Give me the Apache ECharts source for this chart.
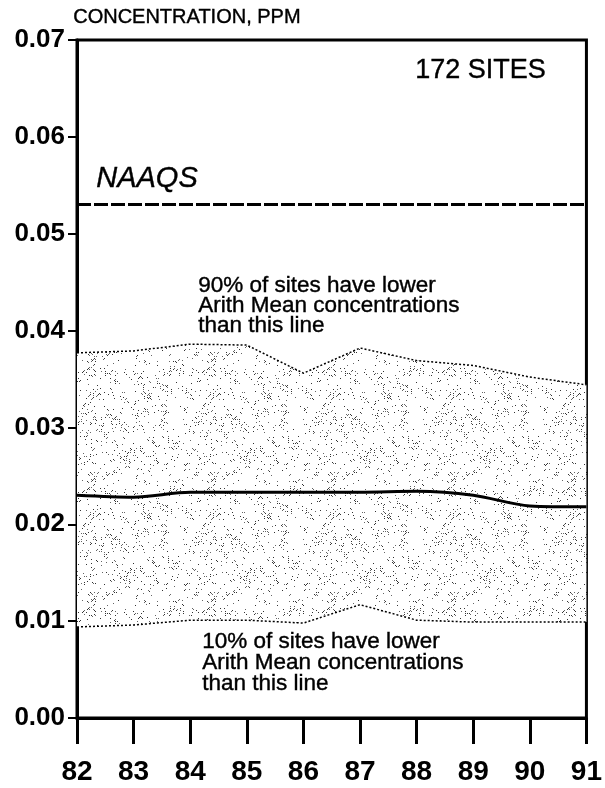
<!DOCTYPE html>
<html>
<head>
<meta charset="utf-8">
<script src="https://cdn.jsdelivr.net/npm/echarts@6/dist/echarts.min.js"></script>
<style>
  html, body { margin: 0; padding: 0; background: #fff; }
  #chart { width: 605px; height: 788px; }
</style>
</head>
<body>
<div id="chart"></div>
<script>
// Years on the horizontal axis
const years = ['82', '83', '84', '85', '86', '87', '88', '89', '90', '91'];
// Annual arithmetic mean NO2 concentration, ppm
const pct90 = [0.0377, 0.0379, 0.0386, 0.0385, 0.0356, 0.0382, 0.0369, 0.0364, 0.0352, 0.0344];
const meanAll = [0.0230, 0.0228, 0.0233, 0.0233, 0.0233, 0.0233, 0.0234, 0.0230, 0.0219, 0.0218];
const pct10 = [0.0094, 0.0096, 0.0101, 0.0101, 0.0098, 0.0117, 0.0101, 0.0099, 0.0099, 0.0099];
// National ambient air quality standard, ppm
const naaqs = 0.053;
const yTicks = ['0.00', '0.01', '0.02', '0.03', '0.04', '0.05', '0.06', '0.07'];

const FONT = '"Liberation Sans", Arial, Helvetica, sans-serif';

// Integer hash used to scatter the stipple dots deterministically
function hash(x, y, s) {
  let h = Math.imul(x, 374761393) + Math.imul(y, 668265263) + Math.imul(s, 1442695041);
  h = Math.imul(h ^ (h >>> 13), 1274126177);
  h = h ^ (h >>> 16);
  return (h >>> 0) / 4294967296;
}

// Sparse, clumpy stipple tile for the 10%-90% band
function makeStipple() {
  const W = 120, H = 120;
  const c = document.createElement('canvas');
  c.width = W; c.height = H;
  const ctx = c.getContext('2d');
  ctx.fillStyle = '#ffffff';
  ctx.fillRect(0, 0, W, H);
  for (let x = 0; x < W; x++) {
    for (let y = 0; y < H; y++) {
      const cell = hash(Math.floor(x / 8), Math.floor(y / 8), 7);
      const p = 0.01 + cell * cell * 0.12;
      if ((x + y) % 2 === 0 && hash(x, y, 3) < p * 2) {
        ctx.fillStyle = hash(x, y, 11) < 0.5 ? '#333333' : '#666666';
        ctx.fillRect(x, y, 1, 1);
      }
    }
  }
  return c;
}

const bandWidth = pct90.map((v, i) => +(v - pct10[i]).toFixed(5));

// Annotation text style: slightly heavier than plain regular weight
function note(text, size, extra) {
  return Object.assign({ text: text, font: size + 'px ' + FONT, fill: '#000', stroke: '#000', lineWidth: 0.4 }, extra || {});
}

const chart = echarts.init(document.getElementById('chart'), null, { renderer: 'canvas' });

chart.setOption({
  animation: false,
  backgroundColor: '#ffffff',
  grid: {
    left: 77, right: 17, top: 40, bottom: 70,
    show: true, borderColor: '#000', borderWidth: 3, backgroundColor: 'transparent'
  },
  xAxis: {
    type: 'category',
    data: years,
    boundaryGap: false,
    axisLine: { lineStyle: { color: '#000', width: 3 } },
    axisTick: { show: true, inside: false, length: 26, alignWithLabel: true, lineStyle: { color: '#000', width: 3 } },
    axisLabel: { color: '#000', fontFamily: FONT, fontSize: 28, fontWeight: 'bold', margin: 40 },
    splitLine: { show: false }
  },
  yAxis: {
    type: 'value',
    min: 0, max: 0.07, interval: 0.01,
    axisLine: { show: true, lineStyle: { color: '#000', width: 3 } },
    axisTick: { show: true, length: 9, lineStyle: { color: '#000', width: 2 } },
    axisLabel: {
      color: '#000', fontFamily: FONT, fontSize: 26, fontWeight: 'bold', margin: 12,
      formatter: (v) => yTicks[Math.round(v * 100)]
    },
    splitLine: { show: false }
  },
  series: [
    {
      name: '10th percentile',
      type: 'line',
      data: pct10,
      stack: 'band',
      symbol: 'none',
      lineStyle: { color: '#000', width: 1.5, type: [2, 2] },
      areaStyle: { opacity: 0 },
      z: 3
    },
    {
      name: '90th percentile',
      type: 'line',
      data: bandWidth,
      stack: 'band',
      symbol: 'none',
      lineStyle: { color: '#000', width: 1.5, type: [2, 2] },
      areaStyle: { color: { image: makeStipple(), repeat: 'repeat' }, opacity: 1 },
      z: 2
    },
    {
      name: 'Average for all sites',
      type: 'line',
      data: meanAll,
      symbol: 'none',
      smooth: 0.3,
      lineStyle: { color: '#000', width: 3 },
      z: 4,
      markLine: {
        silent: true,
        symbol: 'none',
        precision: 4,
        label: { show: false },
        lineStyle: { color: '#000', width: 3, type: [14, 3] },
        data: [{ yAxis: naaqs }]
      }
    }
  ],
  graphic: [
    { type: 'text', left: 73, top: 7, style: note('CONCENTRATION, PPM', 20) },
    { type: 'text', left: 415, top: 57, style: note('172 SITES', 27) },
    { type: 'text', left: 96, top: 164, style: note('NAAQS', 29, { font: 'italic 29px ' + FONT }) },
    { type: 'text', left: 198, top: 274, style: note('90% of sites have lower\nArith Mean concentrations\nthan this line', 22.5, { lineHeight: 20 }) },
    { type: 'text', left: 180, top: 461, style: note('Average for all sites', 21.5) },
    { type: 'text', left: 202, top: 630, style: note('10% of sites have lower\nArith Mean concentrations\nthan this line', 22.5, { lineHeight: 21 }) }
  ]
});
</script>
</body>
</html>
